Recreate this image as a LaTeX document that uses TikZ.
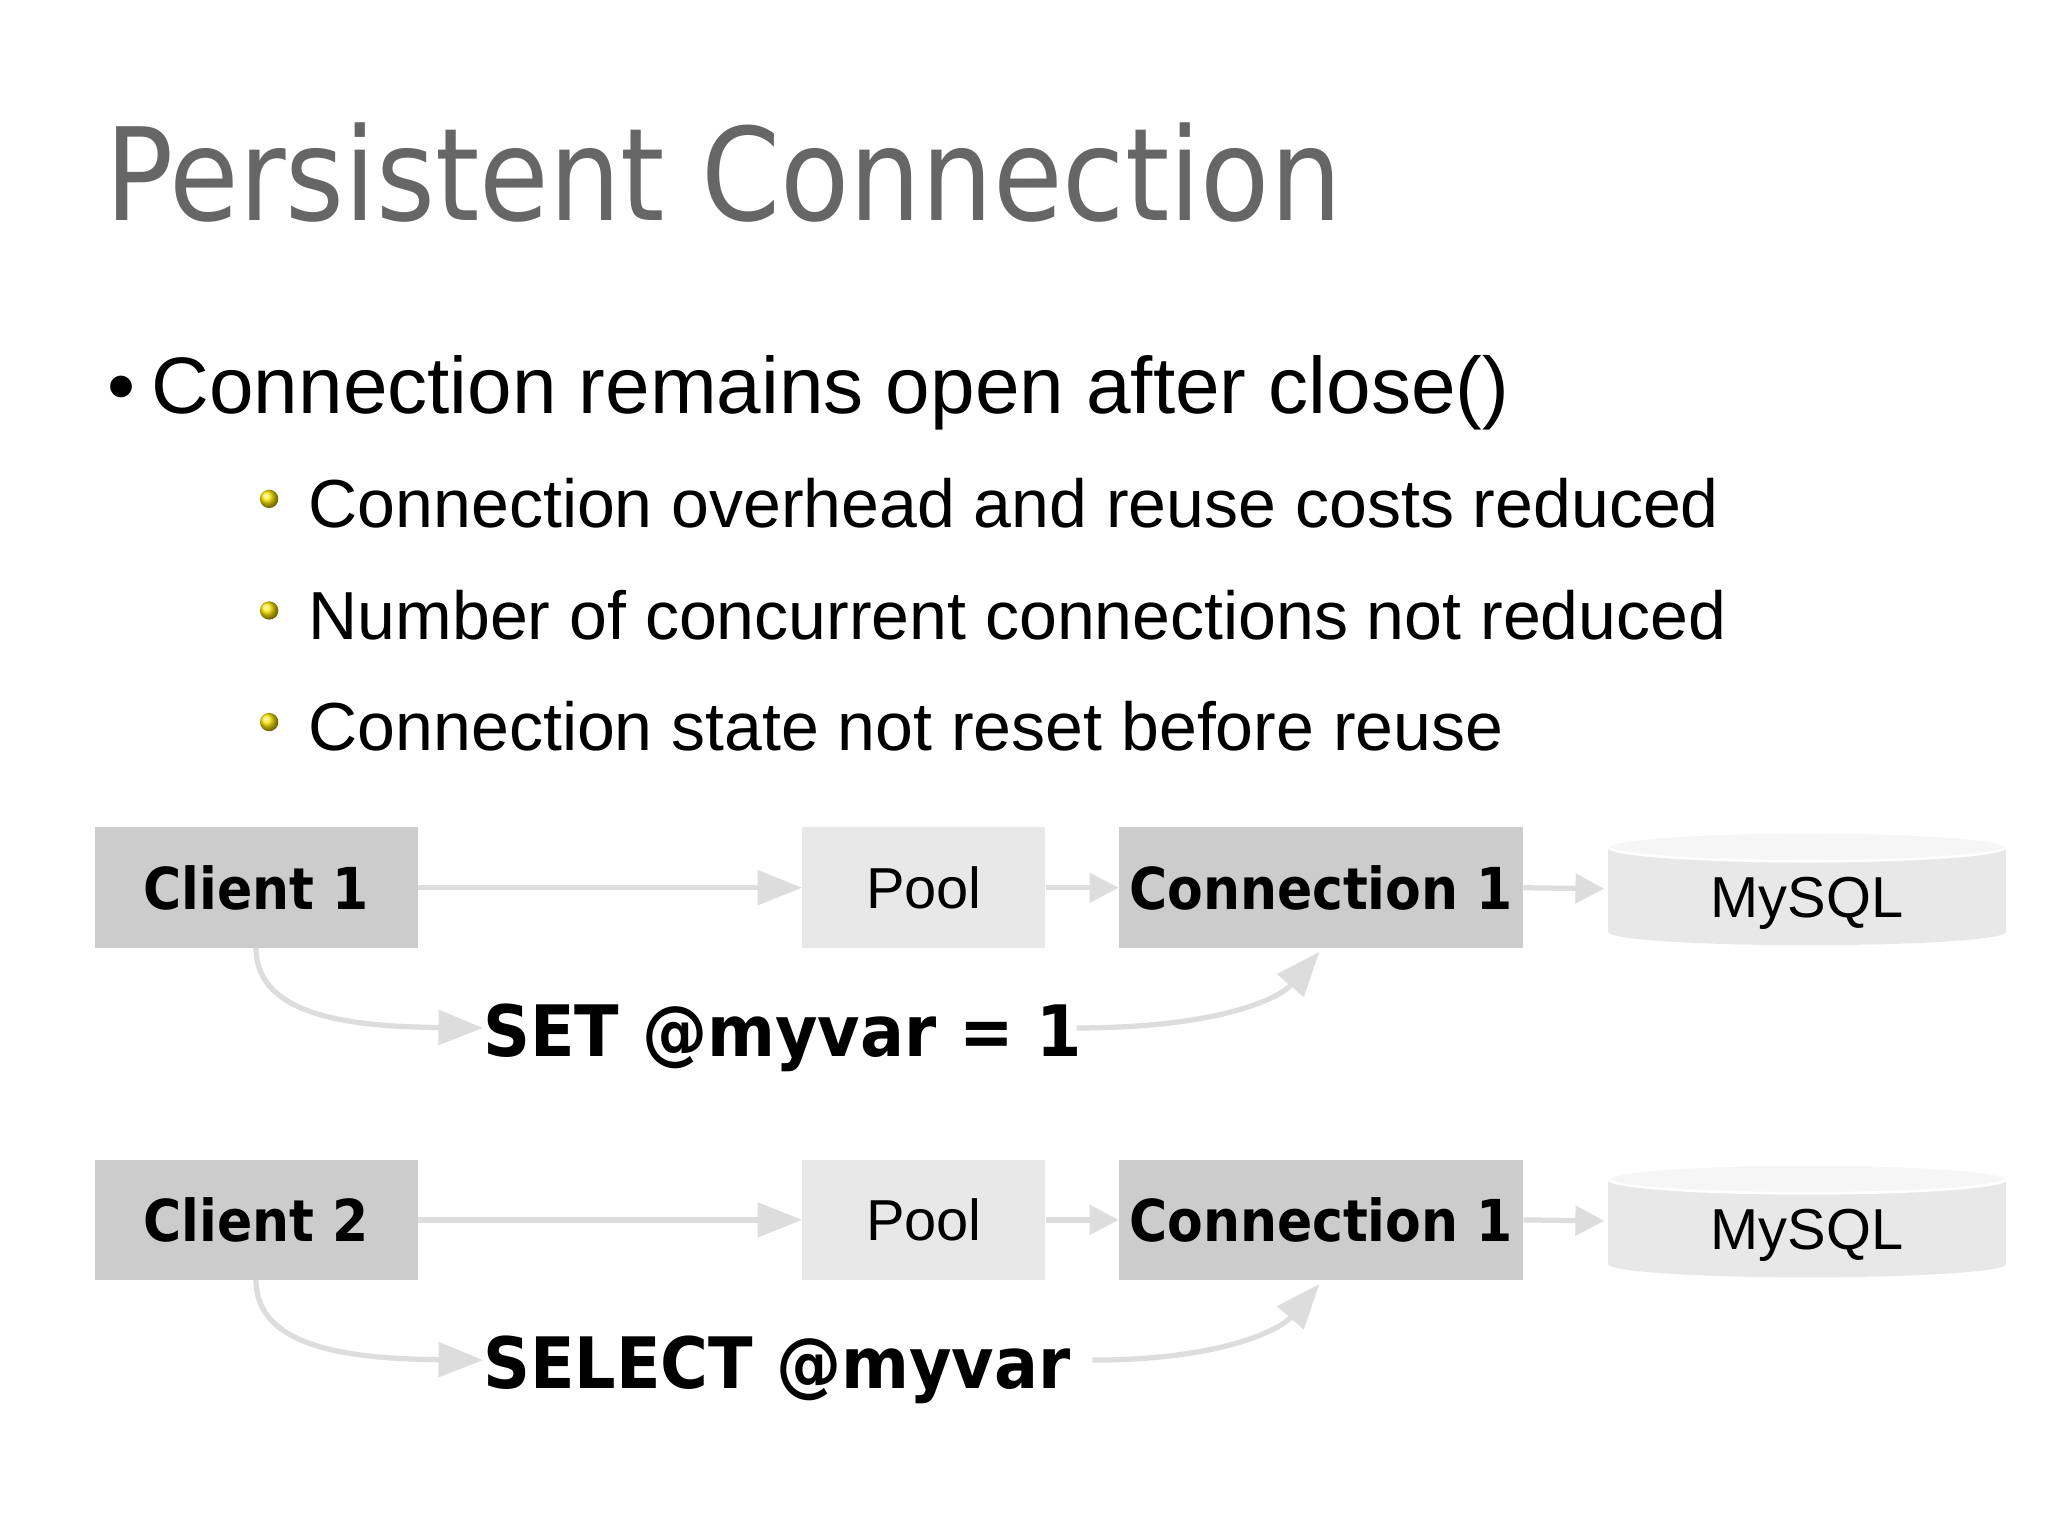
\documentclass[tikz,border=0pt]{standalone}
\usepackage{fontspec}
\setmainfont{Liberation Sans}
\newfontfamily\titlefont{DejaVu Sans}
\newfontfamily\boxfont{DejaVu Sans}
\usetikzlibrary{arrows.meta,shapes.geometric}
\definecolor{darkbox}{HTML}{CCCCCC}
\definecolor{lightbox}{HTML}{E8E8E8}
\definecolor{arr}{HTML}{DDDDDD}
\definecolor{titlegray}{HTML}{666666}
\newcommand{\narrow}[1]{\scalebox{0.9}[1]{#1}}
\tikzset{
  box/.style={inner sep=0pt, minimum height=92pt, anchor=north west},
  dbox/.style={box, fill=darkbox, font=\boxfont\bfseries\fontsize{44}{50}\selectfont},
  lbox/.style={box, fill=lightbox, font=\fontsize{44}{50}\selectfont},
  conn/.style={draw=arr, line width=4pt, -{Triangle[length=34pt,width=26pt]}},
  sconn/.style={draw=arr, line width=4pt, -{Triangle[length=22pt,width=22pt]}},
  code/.style={anchor=base west, inner sep=0pt, font=\boxfont\bfseries\fontsize{54}{60}\selectfont},
}
\begin{document}
\begin{tikzpicture}[x=1pt,y=-1pt]
\useasboundingbox (0,0) rectangle (1560,1170);
\fill[white] (0,0) rectangle (1560,1170);
\node[anchor=base west, inner sep=0pt, text=titlegray, font=\titlefont\fontsize{98}{110}\selectfont] (title) at (80,168) {\scalebox{0.88}[1]{Persistent Connection}};
\node[anchor=base west, inner sep=0pt, font=\fontsize{61}{70}\selectfont] (b1) at (82,315) {•\hspace{12pt}Connection remains open after close()};
\foreach \y/\t [count=\i] in {402/Connection overhead and reuse costs reduced,487/Number of concurrent connections not reduced,572/Connection state not reset before reuse}{
  \shade[ball color=yellow!80!orange] (205,\y-22) circle (7pt);
  \node[anchor=base west, inner sep=0pt, font=\fontsize{51.8}{60}\selectfont] (s\i) at (235,\y) {\t};
}
\foreach \r/\dy/\c/\code/\cx in {1/0/Client 1/{SET @myvar = 1}/820, 2/253/Client 2/{SELECT @myvar}/832}{
  \begin{scope}[yshift=-\dy pt]
  \node[dbox, minimum width=246pt] (cl\r) at (72,630) {\narrow{\c}};
  \node[lbox, minimum width=185pt] (pool\r) at (611,630) {Pool};
  \node[dbox, minimum width=308pt] (cn\r) at (852,630) {\narrow{Connection 1}};
  \fill[lightbox] (1225,645) rectangle (1528,710);
  \fill[lightbox] (1376.5,710) ellipse (151.5pt and 10pt);
  \fill[white!60!lightbox, draw=white, line width=2pt] (1376.5,645) ellipse (151.5pt and 11pt);
  \node[inner sep=0pt, font=\fontsize{44}{50}\selectfont] (my\r) at (1376.5,688) {MySQL};
  \draw[conn] (cl\r.east) -- (pool\r.west);
  \draw[sconn] (pool\r.east) -- (cn\r.west);
  \draw[sconn] (cn\r.east) -- (1222,677) coordinate (db\r);
  \node[code] (cd\r) at (368,805) {\scalebox{0.92}[1]{\code}};
  \draw[conn] (195,722) .. controls (195,775) and (270,782) .. (cd\r.west |- 0,783);
  \coordinate (ce\r) at (\cx,783);
  \draw[conn] (ce\r) .. controls (930,783) and (975,760) .. (1005,725);
  \end{scope}
}
\end{tikzpicture}
\end{document}
